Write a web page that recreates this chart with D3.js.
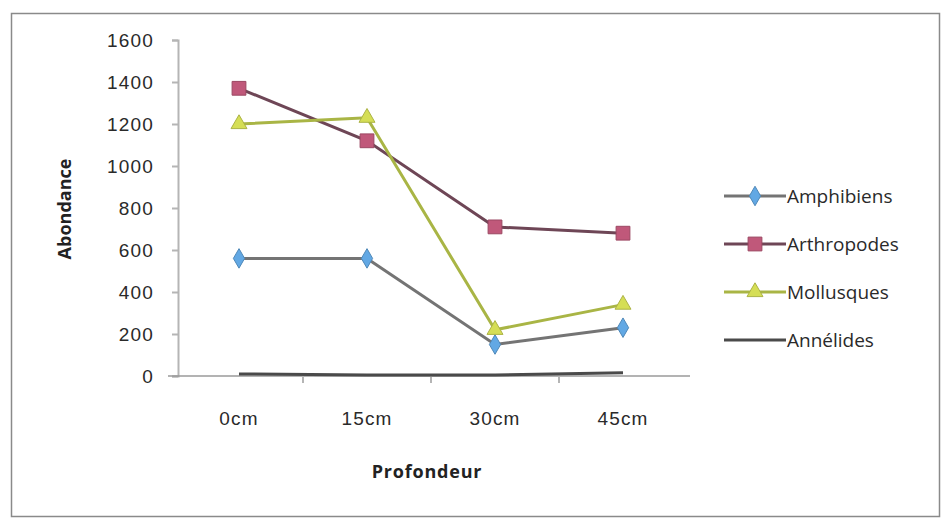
<!DOCTYPE html>
<html>
<head>
<meta charset="utf-8">
<script src="https://cdn.jsdelivr.net/npm/d3@7"></script>
<style>
  html, body { margin: 0; padding: 0; background: #fff; }
  svg { display: block; font-family: "Open Sans", "Liberation Sans", sans-serif; }
</style>
</head>
<body>
<svg id="chart" width="942" height="520"></svg>
<script>
// Abondance par profondeur
const categories = ["0cm", "15cm", "30cm", "45cm"];
const seriesNames = ["Amphibiens", "Arthropodes", "Mollusques", "Annélides"];
const amphibiens  = [560, 560, 150, 230];
const arthropodes = [1370, 1120, 710, 680];
const mollusques  = [1200, 1230, 220, 340];
const annelides   = [10, 5, 5, 15];
const yTicks = [0, 200, 400, 600, 800, 1000, 1200, 1400, 1600];

const seriesValues = [amphibiens, arthropodes, mollusques, annelides];
const lineColors   = ["#747474", "#6e4656", "#a9b545", "#4a4a4a"];
const markerFill   = ["#62a8e4", "#c0587a", "#d5de55", null];
const markerShape  = [d3.symbolDiamond, d3.symbolSquare, d3.symbolTriangle, null];
const markerSize   = [110, 190, 110, 0];

const svg = d3.select("#chart");

// chart frame
svg.append("rect")
  .attr("x", 11.5).attr("y", 13.5)
  .attr("width", 928).attr("height", 503)
  .attr("fill", "#fff").attr("stroke", "#8a8a8a").attr("stroke-width", 1.5);

const plot = { left: 175, right: 687, top: 40, bottom: 376 };

const x = d3.scaleBand().domain(categories).range([plot.left, plot.right]);
const y = d3.scaleLinear().domain([0, 1600]).range([plot.bottom, plot.top]);

// y axis
const yAxis = svg.append("g")
  .attr("transform", `translate(${plot.left + 3},0)`)
  .call(d3.axisLeft(y).tickValues(yTicks).tickFormat(d3.format("d")).tickSize(6).tickPadding(18));
yAxis.select(".domain").attr("stroke", "#b5b5b5").attr("stroke-width", 2);
yAxis.selectAll(".tick line").attr("stroke", "#b5b5b5").attr("stroke-width", 2);
yAxis.selectAll(".tick text")
  .attr("fill", "#2a2a2a").attr("font-size", 19).attr("letter-spacing", 1.2);

// x axis
const xAxis = svg.append("g")
  .attr("transform", `translate(0,${plot.bottom})`)
  .call(d3.axisBottom(x).tickSizeOuter(0).tickSize(0).tickPadding(36));
xAxis.select(".domain").attr("stroke", "#9a9a9a").attr("stroke-width", 1.5)
  .attr("d", `M${plot.left - 7},0H${plot.right + 3}`);
xAxis.selectAll(".tick text")
  .attr("fill", "#2a2a2a").attr("font-size", 19).attr("letter-spacing", 1.2);
// category separators
xAxis.selectAll(".sep")
  .data(categories.slice(1))
  .enter().append("line")
  .attr("x1", d => x(d)).attr("x2", d => x(d))
  .attr("y1", 0).attr("y2", 7)
  .attr("stroke", "#b5b5b5").attr("stroke-width", 2);

// axis titles
svg.append("text")
  .attr("transform", `translate(71,209) rotate(-90)`)
  .attr("text-anchor", "middle")
  .attr("font-size", 18).attr("font-weight", "bold").attr("fill", "#222")
  .text("Abondance");
svg.append("text")
  .attr("x", 427).attr("y", 478)
  .attr("text-anchor", "middle")
  .attr("font-size", 18).attr("font-weight", "bold").attr("fill", "#222")
  .attr("letter-spacing", 0.8)
  .text("Profondeur");

// series
const line = d3.line()
  .x((d, i) => x(categories[i]) + x.bandwidth() / 2)
  .y(d => y(d));

seriesValues.forEach((vals, s) => {
  svg.append("path")
    .datum(vals)
    .attr("fill", "none")
    .attr("stroke", lineColors[s])
    .attr("stroke-width", 3)
    .attr("d", line);
});

seriesValues.forEach((vals, s) => {
  if (!markerShape[s]) return;
  svg.selectAll(null)
    .data(vals)
    .enter().append("path")
    .attr("transform", (d, i) => `translate(${x(categories[i]) + x.bandwidth() / 2},${y(d)})`)
    .attr("d", d3.symbol().type(markerShape[s]).size(markerSize[s]))
    .attr("fill", markerFill[s])
    .attr("stroke", d3.color(markerFill[s]).darker(0.6))
    .attr("stroke-width", 1);
});

// legend
const legend = svg.append("g").attr("transform", "translate(724,196)");
seriesNames.forEach((name, s) => {
  const g = legend.append("g").attr("transform", `translate(0,${s * 48})`);
  g.append("line")
    .attr("x1", 0).attr("x2", 62).attr("y1", 0).attr("y2", 0)
    .attr("stroke", lineColors[s]).attr("stroke-width", 3);
  if (markerShape[s]) {
    g.append("path")
      .attr("transform", "translate(31,0)")
      .attr("d", d3.symbol().type(markerShape[s]).size(markerSize[s]))
      .attr("fill", markerFill[s])
      .attr("stroke", d3.color(markerFill[s]).darker(0.6));
  }
  g.append("text")
    .attr("x", 63).attr("y", 0).attr("dy", "0.35em")
    .attr("font-size", 19).attr("fill", "#2a2a2a")
    .text(name);
});
</script>
</body>
</html>
